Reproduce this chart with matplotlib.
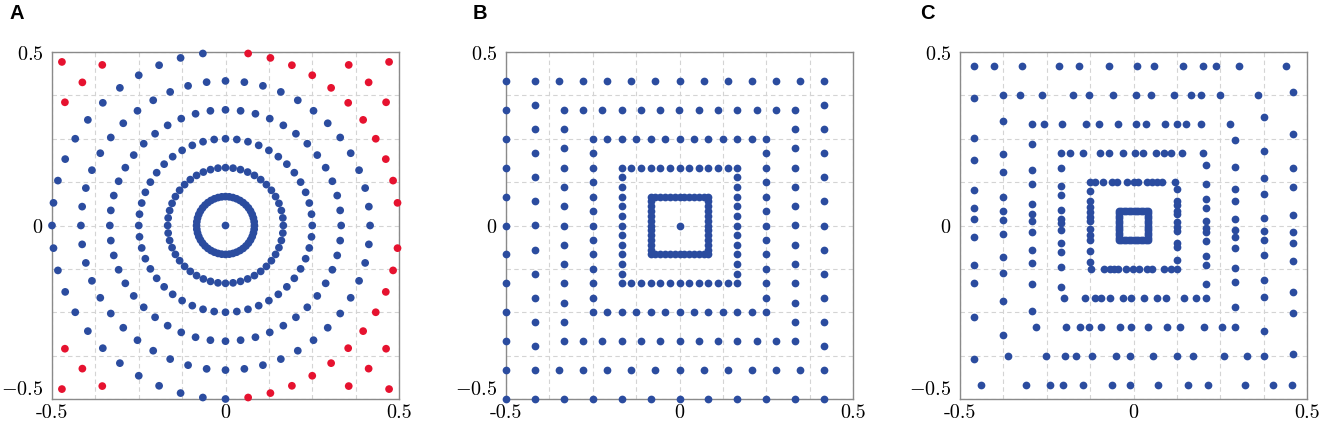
import numpy as np
import matplotlib
matplotlib.use("Agg")
import matplotlib.pyplot as plt

plt.rcParams['mathtext.fontset'] = 'cm'

BLUE = '#2b4c9f'
RED = '#e6122f'

# Panel A: concentric rings of nodes (radius, nodes per ring)
RING_RADII_A = [1 / 12, 2 / 12, 3 / 12, 4 / 12, 5 / 12, 6 / 12, 7 / 12, 8 / 12]
NODES_PER_RING = 48

# Panel B: concentric square rings (half widths), same node count per ring
SQUARE_HALF_B = [1 / 12, 2 / 12, 3 / 12, 4 / 12, 5 / 12, 6 / 12]

# Panel C: staggered square rings, irregular node positions read per side
SQUARE_HALF_C = [0.5 / 12, 1.5 / 12, 2.5 / 12, 3.5 / 12, 4.5 / 12, 5.5 / 12]

C_TOP = {
    2: [-0.125, -0.111, -0.089, -0.062, -0.047, -0.019, 0.000, 0.014, 0.039, 0.053, 0.067, 0.083, 0.119],
    3: [-0.209, -0.183, -0.1465, -0.0975, -0.0716, -0.031, 0.003, 0.026, 0.065, 0.089, 0.107, 0.139, 0.199],
    4: [-0.2925, -0.257, -0.205, -0.136, -0.100, -0.046, 0.006, 0.037, 0.091, 0.125, 0.150, 0.194, 0.279],
    5: [-0.375, -0.328, -0.264, -0.175, -0.128, -0.058, 0.008, 0.049, 0.118, 0.165, 0.195, 0.250, 0.359],
    6: [-0.460, -0.402, -0.321, -0.215, -0.156, -0.072, 0.009, 0.059, 0.144, 0.200, 0.239, 0.305, 0.439],
}
C_RIGHT = {
    2: [0.105, 0.071, 0.060, 0.043, 0.032, 0.009, -0.005, -0.017, -0.049, -0.0625, -0.098],
    3: [0.174, 0.119, 0.075, 0.049, 0.0125, -0.008, -0.019, -0.046, -0.0875, -0.115, -0.168],
    4: [0.245, 0.168, 0.106, 0.070, 0.018, -0.0125, -0.034, -0.065, -0.122, -0.162, -0.235],
    5: [0.314, 0.214, 0.136, 0.091, 0.022, -0.017, -0.043, -0.085, -0.157, -0.207, -0.304],
    6: [0.385, 0.263, 0.165, 0.112, 0.029, -0.020, -0.051, -0.103, -0.192, -0.253, -0.369],
}
C_BOTTOM = {
    2: [-0.1215, -0.086, -0.068, -0.057, -0.045, -0.021, -0.0005, 0.016, 0.038, 0.052, 0.088, 0.108, 0.125],
    3: [-0.200, -0.141, -0.111, -0.094, -0.068, -0.029, -0.007, 0.030, 0.069, 0.095, 0.145, 0.181, 0.2075],
    4: [-0.282, -0.1955, -0.153, -0.129, -0.095, -0.040, -0.008, 0.043, 0.0975, 0.135, 0.203, 0.254, 0.2915],
    5: [-0.362, -0.251, -0.196, -0.167, -0.120, -0.049, -0.009, 0.057, 0.126, 0.172, 0.262, 0.327, 0.375],
    6: [-0.440, -0.309, -0.240, -0.203, -0.146, -0.062, -0.011, 0.070, 0.156, 0.214, 0.321, 0.401, 0.458],
}
C_LEFT = {
    2: [0.100, 0.070, 0.053, 0.0385, 0.024, 0.0125, -0.0096, -0.027, -0.041, -0.073, -0.104],
    3: [0.166, 0.113, 0.087, 0.044, 0.018, 0.006, -0.014, -0.051, -0.077, -0.121, -0.176],
    4: [0.234, 0.160, 0.120, 0.063, 0.032, 0.0125, -0.020, -0.072, -0.107, -0.169, -0.246],
    5: [0.301, 0.205, 0.155, 0.083, 0.041, 0.015, -0.025, -0.092, -0.138, -0.217, -0.315],
    6: [0.368, 0.251, 0.189, 0.101, 0.050, 0.019, -0.032, -0.113, -0.167, -0.265, -0.385],
}

PANEL_LABELS = ['A', 'B', 'C']
TICKS = [-0.5, 0, 0.5]
X_TICK_LABELS = ['-0.5', '0', '0.5']
Y_TICK_LABELS = ['$-0.5$', '$0$', '$0.5$']


def inside(x, y):
    # half-open periodic box [-0.5, 0.5)
    eps = 1e-9
    return (x >= -0.5 - eps) & (x < 0.5 - eps) & (y >= -0.5 - eps) & (y < 0.5 - eps)


def ring_nodes():
    xs, ys, cols = [0.0], [0.0], [BLUE]
    ang = np.arange(NODES_PER_RING) * 2 * np.pi / NODES_PER_RING
    for r in RING_RADII_A:
        x, y = r * np.cos(ang), r * np.sin(ang)
        keep = inside(x, y)
        for xi, yi in zip(x[keep], y[keep]):
            red = r > 0.5 + 1e-9 or (abs(r - 0.5) < 1e-9 and xi > 1e-9)
            xs.append(xi)
            ys.append(yi)
            cols.append(RED if red else BLUE)
    return np.array(xs), np.array(ys), cols


def square_ring(h, n):
    # n nodes walked along the square perimeter, starting at bottom-left corner
    t = np.arange(n) * 8 * h / n
    side = 2 * h
    x = np.empty(n)
    y = np.empty(n)
    for i, s in enumerate(t):
        if s < side:
            x[i], y[i] = -h + s, -h
        elif s < 2 * side:
            x[i], y[i] = h, -h + (s - side)
        elif s < 3 * side:
            x[i], y[i] = h - (s - 2 * side), h
        else:
            x[i], y[i] = -h, h - (s - 3 * side)
    return x, y


def square_nodes():
    xs, ys = [0.0], [0.0]
    for h in SQUARE_HALF_B:
        x, y = square_ring(h, NODES_PER_RING)
        keep = inside(x, y)
        xs.extend(x[keep])
        ys.extend(y[keep])
    return np.array(xs), np.array(ys)


def staggered_nodes():
    x, y = square_ring(SQUARE_HALF_C[0], NODES_PER_RING)
    xs, ys = list(x), list(y)
    for k in range(2, 7):
        h = SQUARE_HALF_C[k - 1]
        for v in C_TOP[k]:
            xs.append(v); ys.append(h)
        for v in C_RIGHT[k]:
            xs.append(h); ys.append(v)
        for v in C_BOTTOM[k]:
            xs.append(v); ys.append(-h)
        for v in C_LEFT[k]:
            xs.append(-h); ys.append(v)
    return np.array(xs), np.array(ys)


def style_axes(ax):
    ax.set_xlim(-0.5, 0.5)
    ax.set_ylim(-0.5, 0.5)
    ax.set_xticks(TICKS)
    ax.set_yticks(TICKS)
    ax.set_xticks(np.arange(-0.5, 0.51, 0.125), minor=True)
    ax.set_yticks(np.arange(-0.5, 0.51, 0.125), minor=True)
    ax.set_xticklabels(X_TICK_LABELS, fontfamily='cmr10', fontsize=14.5)
    ax.set_yticklabels(Y_TICK_LABELS, fontsize=14.5)
    ax.yaxis.get_majorticklabels()[0].set_va('bottom')
    ax.tick_params(which='both', length=0)
    ax.tick_params(axis='x', pad=4)
    ax.tick_params(axis='y', pad=6)
    ax.grid(which='both', color='#d4d4d4', linestyle=(0, (4, 3)), linewidth=0.8)
    ax.set_axisbelow(True)
    for sp in ax.spines.values():
        sp.set_color('#8a8a8a')
        sp.set_linewidth(1.0)
        sp.set_zorder(1)


fig = plt.figure(figsize=(13.25, 4.23), dpi=100)
lefts = [52, 506, 960]
axes = []
for lx in lefts:
    ax = fig.add_axes([lx / 1325, 1 - 399 / 423, 347 / 1325, 347 / 423])
    style_axes(ax)
    axes.append(ax)

MARKER_S = 31

xa, ya, ca = ring_nodes()
axes[0].scatter(xa, ya, s=MARKER_S, c=ca, linewidths=0, zorder=3, clip_on=False)

xb, yb = square_nodes()
axes[1].scatter(xb, yb, s=MARKER_S, c=BLUE, linewidths=0, zorder=3, clip_on=False)

xc, yc = staggered_nodes()
axes[2].scatter(xc, yc, s=MARKER_S, c=BLUE, linewidths=0, zorder=3, clip_on=False)

label_x = [10, 473, 920]
for lbl, lx in zip(PANEL_LABELS, label_x):
    fig.text(lx / 1325, 1 - 4 / 423, lbl, ha='left', va='top',
             fontsize=14.5, fontweight='bold', family='Liberation Sans')

fig.savefig('out.png', dpi=100)
